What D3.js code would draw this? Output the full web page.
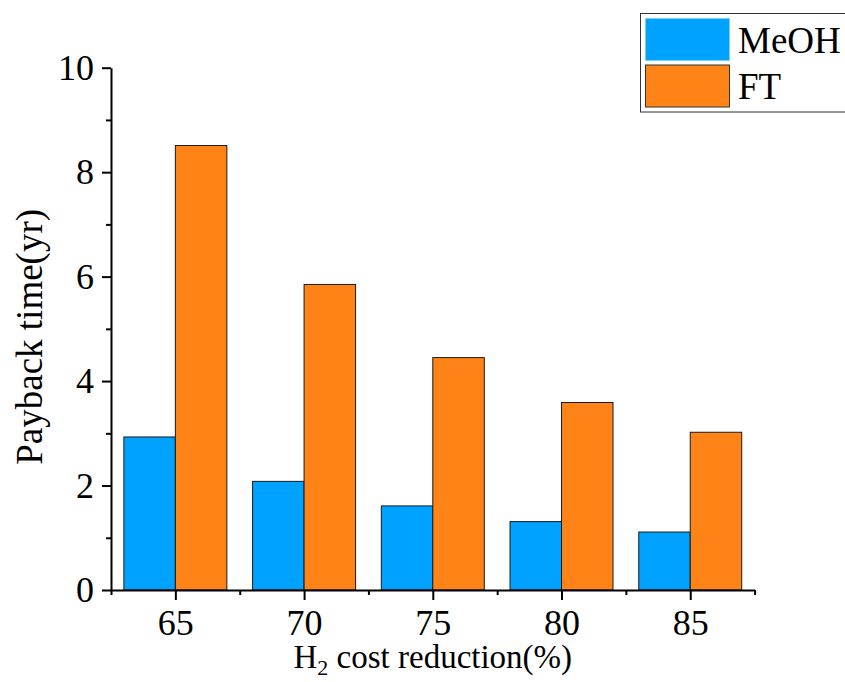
<!DOCTYPE html>
<html>
<head>
<meta charset="utf-8">
<script src="https://cdn.jsdelivr.net/npm/d3@7"></script>
<style>
  body { margin: 0; background: #fff; }
  text { font-family: "Times New Roman", "Liberation Serif", serif; fill: #000; }
</style>
</head>
<body>
<div id="chart"></div>
<script>
const categories = [65, 70, 75, 80, 85];
const meohValues = [2.93, 2.08, 1.61, 1.31, 1.11];
const ftValues = [8.51, 5.85, 4.45, 3.59, 3.02];
const yTicks = [0, 2, 4, 6, 8, 10];
const yMinorTicks = [1, 3, 5, 7, 9];
const xMinorTicks = [62.5, 67.5, 72.5, 77.5, 82.5, 87.5];
const seriesNames = ["MeOH", "FT"];

const width = 845;
const height = 682;
const colors = { MeOH: "#00a2ff", FT: "#ff8316" };

const svg = d3
  .select("#chart")
  .append("svg")
  .attr("width", width)
  .attr("height", height);

const x = d3.scaleLinear().domain([62.5, 87.5]).range([111, 754.6]);
const y = d3.scaleLinear().domain([0, 10]).range([590, 67.7]);
const halfBar = 2; // bar width in x units

// bars
const series = [
  { name: "MeOH", values: meohValues, offset: -halfBar },
  { name: "FT", values: ftValues, offset: 0 }
];

series.forEach(s => {
  svg
    .selectAll(".bar-" + s.name)
    .data(categories)
    .enter()
    .append("rect")
    .attr("x", d => x(d + s.offset))
    .attr("width", x(halfBar) - x(0))
    .attr("y", (d, i) => y(s.values[i]))
    .attr("height", (d, i) => y(0) - y(s.values[i]))
    .attr("fill", colors[s.name])
    .attr("stroke", "#1a1a1a")
    .attr("stroke-width", 1);
});

// axes
const yAxis = svg.append("g").attr("transform", `translate(${x(62.5)},0)`);
yAxis.call(
  d3.axisLeft(y).tickValues(yTicks).tickSize(9).tickSizeOuter(0).tickPadding(8)
);
const yMinor = svg.append("g").attr("transform", `translate(${x(62.5)},0)`);
yMinor.call(d3.axisLeft(y).tickValues(yMinorTicks).tickSize(5).tickFormat(""));
yMinor.select(".domain").remove();

const xAxis = svg.append("g").attr("transform", `translate(0,${y(0)})`);
xAxis.call(
  d3.axisBottom(x).tickValues(categories).tickSize(10).tickSizeOuter(0).tickPadding(9)
);
const xMinor = svg.append("g").attr("transform", `translate(0,${y(0)})`);
xMinor.call(d3.axisBottom(x).tickValues(xMinorTicks).tickSize(5).tickFormat(""));
xMinor.select(".domain").remove();

svg.selectAll(".domain, .tick line").attr("stroke", "#000").attr("stroke-width", 2);
svg
  .selectAll(".tick text")
  .attr("font-size", "36px")
  .attr("font-family", "'Times New Roman', 'Liberation Serif', serif")
  .attr("fill", "#000");

// axis titles
svg
  .append("text")
  .attr("transform", `translate(42,${(y(0) + y(10)) / 2 + 8}) rotate(-90)`)
  .attr("text-anchor", "middle")
  .attr("font-size", "37px")
  .text("Payback time(yr)");

const xTitle = svg
  .append("text")
  .attr("x", (x(62.5) + x(87.5)) / 2)
  .attr("y", 668)
  .attr("text-anchor", "middle")
  .attr("font-size", "33px");
xTitle.append("tspan").text("H");
xTitle.append("tspan").attr("font-size", "22px").attr("dy", 7).text("2");
xTitle.append("tspan").attr("dy", -7).text(" cost reduction(%)");

// legend
const legend = svg.append("g");
legend
  .append("rect")
  .attr("x", 640.5)
  .attr("y", 13.5)
  .attr("width", 230)
  .attr("height", 98.5)
  .attr("fill", "#fff")
  .attr("stroke", "#333")
  .attr("stroke-width", 1);

seriesNames.forEach((name, i) => {
  legend
    .append("rect")
    .attr("x", 645.5)
    .attr("y", 18.5 + i * 46.5)
    .attr("width", 84)
    .attr("height", 42)
    .attr("fill", colors[name])
    .attr("stroke", name === "FT" ? "#333" : "#7fd0ff")
    .attr("stroke-width", 1);
  legend
    .append("text")
    .attr("x", 738)
    .attr("y", 53 + i * 46)
    .attr("font-size", "37px")
    .text(name);
});
</script>
</body>
</html>
